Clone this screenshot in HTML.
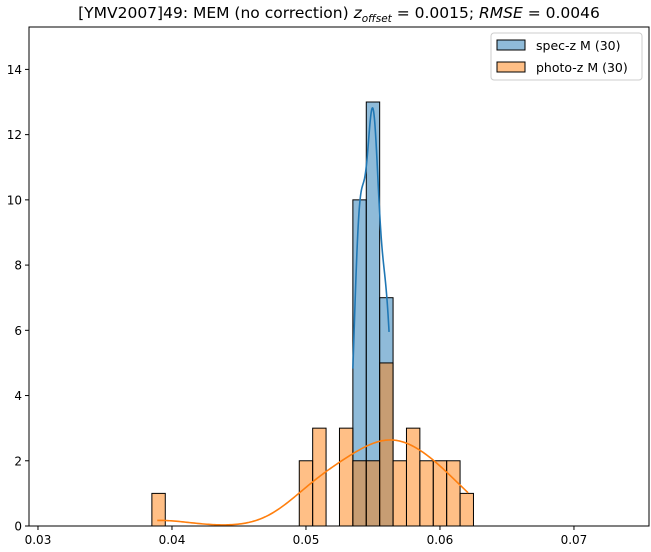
<!DOCTYPE html>
<html><head><meta charset="utf-8">
<style>
html,body{margin:0;padding:0;background:#fff;}
svg{display:block;font-family:"DejaVu Sans","Liberation Sans",sans-serif;}
</style></head>
<body>
<svg id="chart" width="651" height="552" viewBox="0 0 651 552"></svg>
<script>
// data
const binWidth = 0.001;
const specStarts = [0.0535, 0.0545, 0.0555];
const specCounts = [10, 13, 7];
const photoStarts = [0.0385, 0.0495, 0.0505, 0.0515, 0.0525, 0.0535, 0.0545, 0.0555, 0.0565, 0.0575, 0.0585, 0.0595, 0.0605, 0.0615];
const photoCounts = [1, 2, 3, 0, 3, 2, 2, 5, 2, 3, 2, 2, 2, 1];
const specCurveRange = [0.0535, 0.0562];
const photoCurveRange = [0.0389, 0.0621];
const specBandwidth = 0.00045;
const photoBandwidth = null;
const xTicks = [0.03, 0.04, 0.05, 0.06, 0.07];
const xTickLabels = ["0.03", "0.04", "0.05", "0.06", "0.07"];
const yTicks = [0, 2, 4, 6, 8, 10, 12, 14];
const legendLabels = ["spec-z M (30)", "photo-z M (30)"];

const NS = "http://www.w3.org/2000/svg";
const svg = document.getElementById("chart");
const L = 29, R = 649, T = 27, B = 526;
const xMin = 0.02933, xMax = 0.07560, yMax = 15.3;
const X = v => L + (v - xMin) / (xMax - xMin) * (R - L);
const Y = v => B - v / yMax * (B - T);
function mk(tag, attrs, parent) {
  const e = document.createElementNS(NS, tag);
  for (const k in attrs) e.setAttribute(k, attrs[k]);
  (parent || svg).appendChild(e);
  return e;
}
const BLUE = "#1f77b4", ORANGE = "#ff7f0e";

function bars(starts, counts, color, name) {
  const g = mk("g", {});
  
  
  starts.forEach((s, i) => {
    if (counts[i] <= 0) return;
    const r = mk("rect", {x: X(s), y: Y(counts[i]), width: X(s + binWidth) - X(s), height: Y(0) - Y(counts[i]),
      fill: color, "fill-opacity": 0.5, stroke: "#000", "stroke-width": 1}, g);
    
    
  });
}
bars(specStarts, specCounts, BLUE, "spec-z");
bars(photoStarts, photoCounts, ORANGE, "photo-z");

function kde(starts, counts, range, bwFixed, color, name) {
  const samples = [];
  starts.forEach((s, i) => { for (let k = 0; k < counts[i]; k++) samples.push(s + binWidth / 2); });
  const n = samples.length;
  const mean = samples.reduce((a, b) => a + b, 0) / n;
  const sd = Math.sqrt(samples.reduce((a, b) => a + (b - mean) ** 2, 0) / (n - 1));
  const bw = bwFixed || sd * Math.pow(n, -0.2);
  let d = "";
  for (let j = 0; j <= 200; j++) {
    const x = range[0] + (range[1] - range[0]) * j / 200;
    let p = 0;
    samples.forEach(s => { p += Math.exp(-0.5 * ((x - s) / bw) ** 2); });
    p = p / (n * bw * Math.sqrt(2 * Math.PI));
    const c = p * n * binWidth;
    d += (j ? "L" : "M") + X(x).toFixed(2) + "," + Y(c).toFixed(2);
  }
  const path = mk("path", {d: d, fill: "none", stroke: color, "stroke-width": 1.6});
  
  
}
kde(specStarts, specCounts, specCurveRange, specBandwidth, BLUE, "spec-z");
kde(photoStarts, photoCounts, photoCurveRange, photoBandwidth, ORANGE, "photo-z");

const frame = mk("rect", {x: L, y: T, width: R - L, height: B - T, fill: "none", stroke: "#000", "stroke-width": 1});



xTicks.forEach((t, i) => {
  mk("line", {x1: X(t), x2: X(t), y1: B, y2: B + 4, stroke: "#000"});
  const tx = mk("text", {x: X(t), y: B + 18, "text-anchor": "middle", "font-size": 12, fill: "#000"});
  tx.textContent = xTickLabels[i];
  
  
});
yTicks.forEach(t => {
  mk("line", {x1: L - 4, x2: L, y1: Y(t), y2: Y(t), stroke: "#000"});
  const tx = mk("text", {x: L - 7, y: Y(t) + 4.5, "text-anchor": "end", "font-size": 12, fill: "#000"});
  tx.textContent = t;
  
  
});

const title = mk("text", {x: 339, y: 18, "text-anchor": "middle", "font-size": 15.5, fill: "#000"});


title.innerHTML = '[YMV2007]49: MEM (no correction) <tspan font-style="italic">z</tspan><tspan font-style="italic" font-size="10.5" dy="4">offset</tspan><tspan dy="-4"> = 0.0015; </tspan><tspan font-style="italic">RMSE</tspan> = 0.0046';

const lg = mk("g", {});


mk("rect", {x: 491, y: 33, width: 151, height: 47, rx: 3, fill: "#fff", "fill-opacity": 0.8, stroke: "#ccc"}, lg);
[BLUE, ORANGE].forEach((c, i) => {
  const yy = 40 + i * 22;
  const e = mk("g", {}, lg);
  
  
  mk("rect", {x: 497, y: yy, width: 28, height: 10, fill: c, "fill-opacity": 0.5, stroke: "#000"}, e);
  const t = mk("text", {x: 536, y: yy + 10, "font-size": 12.5, fill: "#000"}, e);
  t.textContent = legendLabels[i];
});
</script>
</body></html>
